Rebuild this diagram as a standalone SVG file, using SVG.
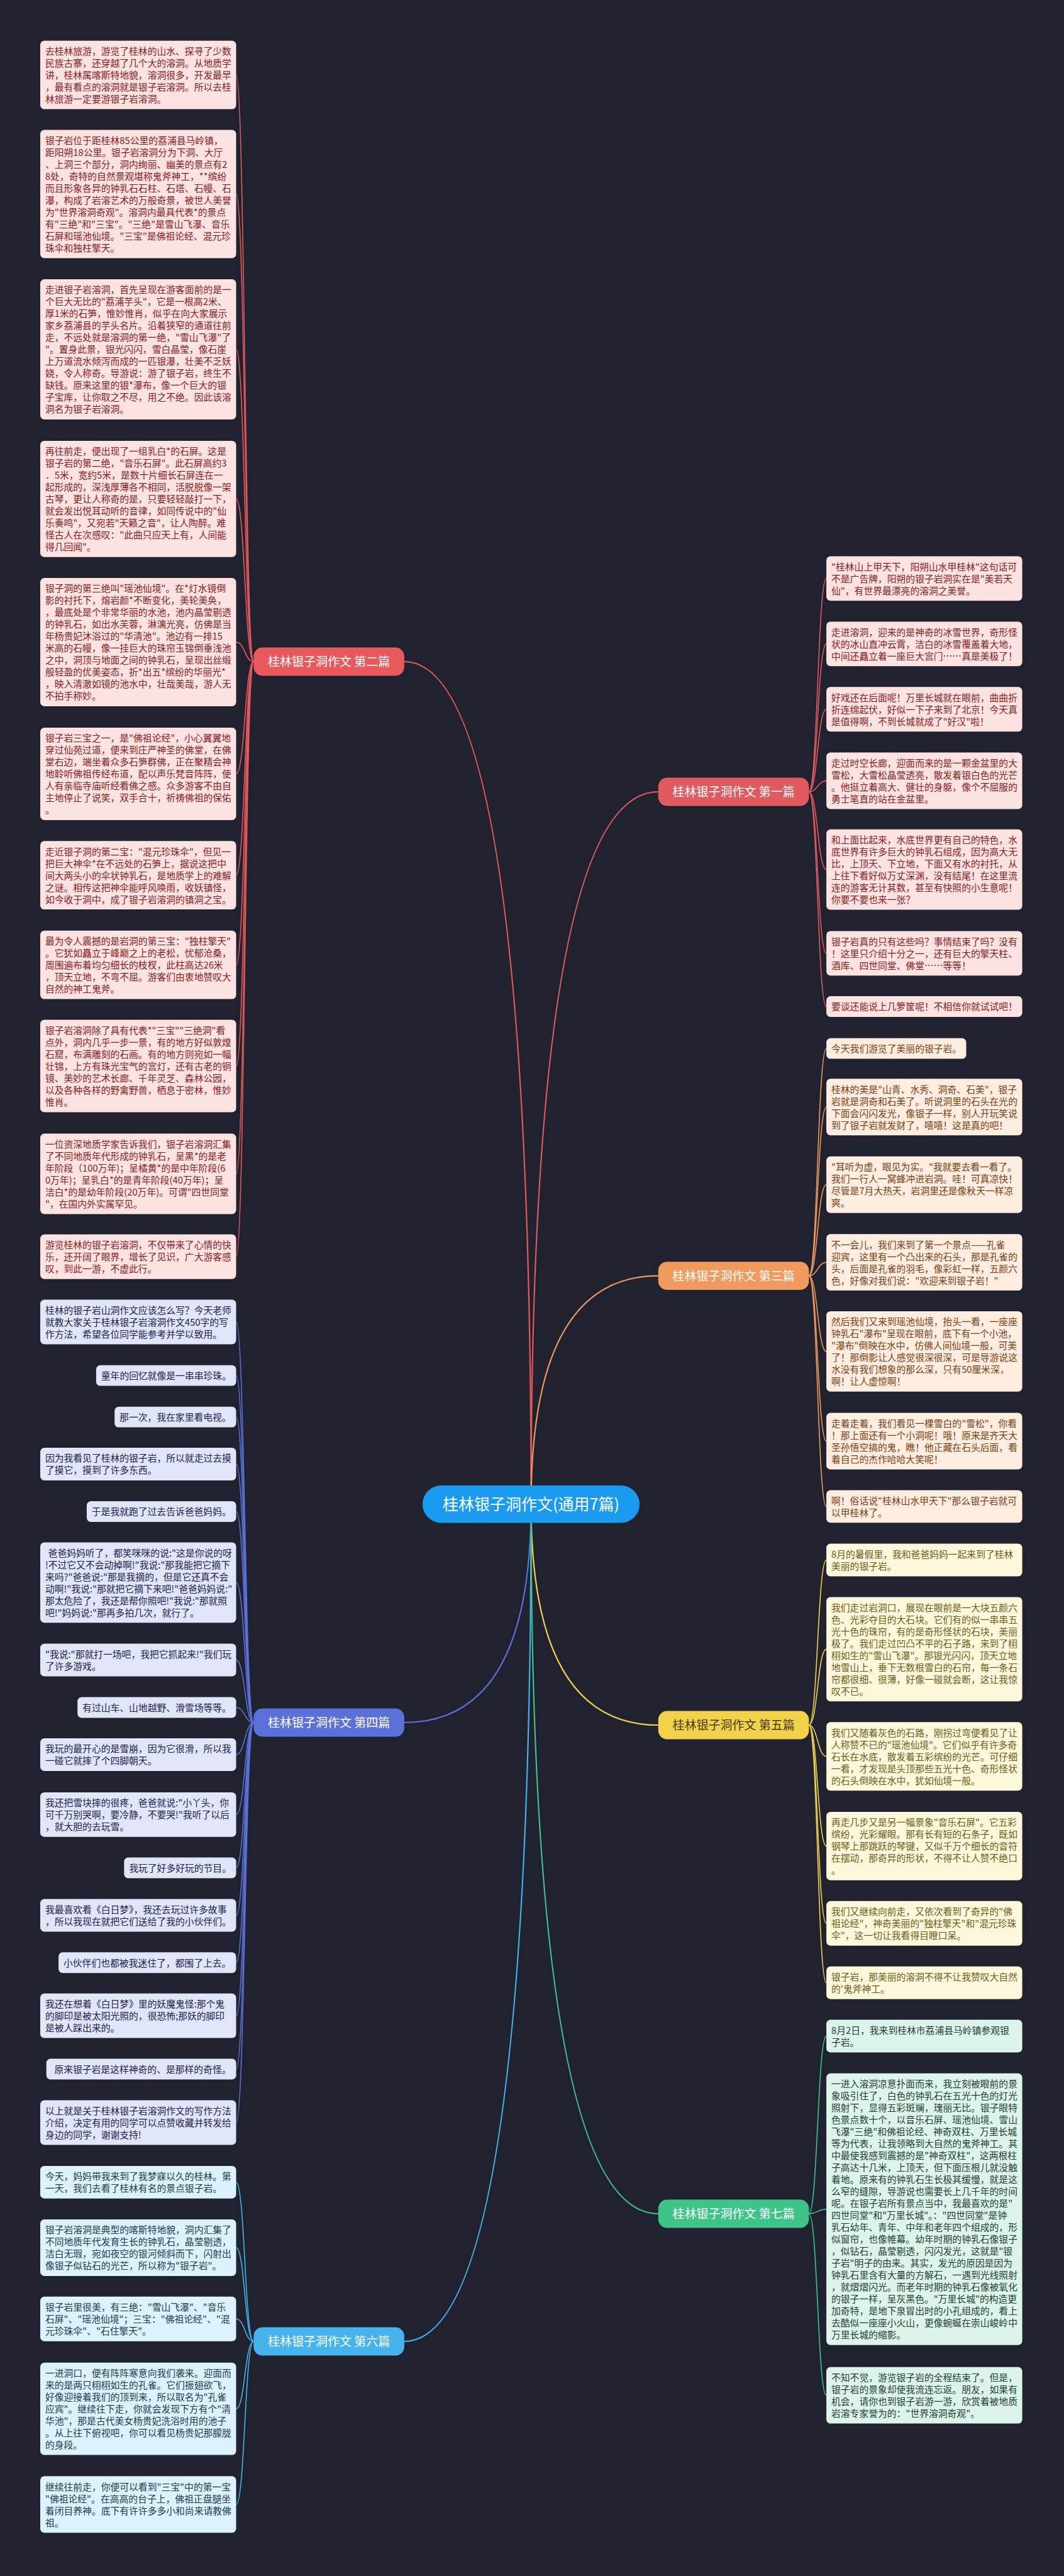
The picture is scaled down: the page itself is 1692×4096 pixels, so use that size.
<svg xmlns="http://www.w3.org/2000/svg" width="1692" height="4096" viewBox="0 0 1692 4096">
<style>
text{font-family:"Noto Sans CJK SC","Noto Sans",sans-serif;font-size:14.8px}
.lf rect{}
.ln{fill:none;stroke-width:1.6}
.br{fill:none;stroke-width:2.2}
.s1{stroke:#E05A60}.s2{stroke:#E8595B}.s3{stroke:#F09A5E}.s4{stroke:#5B70D8}.s5{stroke:#F2D24B}.s6{stroke:#46B3EC}.s7{stroke:#3EC489}
.b1 rect,.b2 rect{fill:#FDE2E2}.b1 text,.b2 text{fill:#8B1A1A}
.b3 rect{fill:#FDEDE1}.b3 text{fill:#7D3C0F}
.b4 rect{fill:#E1E5F8}.b4 text{fill:#1B2150}
.b5 rect{fill:#FDF8DC}.b5 text{fill:#6E5A14}
.b6 rect{fill:#DCF2FD}.b6 text{fill:#213A50}
.b7 rect{fill:#DDF4EA}.b7 text{fill:#1E3E33}
.lb text{font-size:19px;fill:#fff;text-anchor:middle}
</style>
<rect width="1692" height="4096" fill="#20232f"/>
<g id="connectors">
<path class="br s2" d="M844.5 2392Q844.5 1052 642.8 1052"/>
<path class="br s1" d="M844.5 2392Q844.5 1259 1046.8 1259"/>
<path class="br s3" d="M844.5 2392Q844.5 2028.6 1046.8 2028.6"/>
<path class="br s4" d="M844.5 2392Q844.5 2739 642.8 2739"/>
<path class="br s5" d="M844.5 2392Q844.5 2743 1046.8 2743"/>
<path class="br s6" d="M844.5 2392Q844.5 3723 642.8 3723"/>
<path class="br s7" d="M844.5 2392Q844.5 3520 1046.8 3520"/>
<g class="ln s2">
<path d="M403.3 1052C389.4 1052 389.4 119.2 375.5 119.2"/>
<path d="M403.3 1052C389.4 1052 389.4 308.6 375.5 308.6"/>
<path d="M403.3 1052C389.4 1052 389.4 555.5 375.5 555.5"/>
<path d="M403.3 1052C389.4 1052 389.4 793.4 375.5 793.4"/>
<path d="M403.3 1052C389.4 1052 389.4 1021.1 375.5 1021.1"/>
<path d="M403.3 1052C389.4 1052 389.4 1230.5 375.5 1230.5"/>
<path d="M403.3 1052C389.4 1052 389.4 1391.7 375.5 1391.7"/>
<path d="M403.3 1052C389.4 1052 389.4 1534.2 375.5 1534.2"/>
<path d="M403.3 1052C389.4 1052 389.4 1695.1 375.5 1695.1"/>
<path d="M403.3 1052C389.4 1052 389.4 1866.5 375.5 1866.5"/>
<path d="M403.3 1052C389.4 1052 389.4 1998.3 375.5 1998.3"/>
</g>
<g class="ln s4">
<path d="M403.3 2739C389.4 2739 389.4 2102 375.5 2102"/>
<path d="M403.3 2739C389.4 2739 389.4 2187.2 375.5 2187.2"/>
<path d="M403.3 2739C389.4 2739 389.4 2253.2 375.5 2253.2"/>
<path d="M403.3 2739C389.4 2739 389.4 2328.1 375.5 2328.1"/>
<path d="M403.3 2739C389.4 2739 389.4 2403.4 375.5 2403.4"/>
<path d="M403.3 2739C389.4 2739 389.4 2516.4 375.5 2516.4"/>
<path d="M403.3 2739C389.4 2739 389.4 2639.6 375.5 2639.6"/>
<path d="M403.3 2739C389.4 2739 389.4 2715 375.5 2715"/>
<path d="M403.3 2739C389.4 2739 389.4 2790.1 375.5 2790.1"/>
<path d="M403.3 2739C389.4 2739 389.4 2885.4 375.5 2885.4"/>
<path d="M403.3 2739C389.4 2739 389.4 2970 375.5 2970"/>
<path d="M403.3 2739C389.4 2739 389.4 3045.5 375.5 3045.5"/>
<path d="M403.3 2739C389.4 2739 389.4 3120.8 375.5 3120.8"/>
<path d="M403.3 2739C389.4 2739 389.4 3205.2 375.5 3205.2"/>
<path d="M403.3 2739C389.4 2739 389.4 3290.1 375.5 3290.1"/>
<path d="M403.3 2739C389.4 2739 389.4 3375.1 375.5 3375.1"/>
</g>
<g class="ln s6">
<path d="M403.3 3723C389.4 3723 389.4 3469.9 375.5 3469.9"/>
<path d="M403.3 3723C389.4 3723 389.4 3574 375.5 3574"/>
<path d="M403.3 3723C389.4 3723 389.4 3687.3 375.5 3687.3"/>
<path d="M403.3 3723C389.4 3723 389.4 3830.2 375.5 3830.2"/>
<path d="M403.3 3723C389.4 3723 389.4 3982.3 375.5 3982.3"/>
</g>
<g class="ln s1">
<path d="M1286.3 1259C1300.2 1259 1300.2 919.9 1314.1 919.9"/>
<path d="M1286.3 1259C1300.2 1259 1300.2 1023.9 1314.1 1023.9"/>
<path d="M1286.3 1259C1300.2 1259 1300.2 1127.8 1314.1 1127.8"/>
<path d="M1286.3 1259C1300.2 1259 1300.2 1241.6 1314.1 1241.6"/>
<path d="M1286.3 1259C1300.2 1259 1300.2 1382.7 1314.1 1382.7"/>
<path d="M1286.3 1259C1300.2 1259 1300.2 1515.9 1314.1 1515.9"/>
<path d="M1286.3 1259C1300.2 1259 1300.2 1600.5 1314.1 1600.5"/>
</g>
<g class="ln s3">
<path d="M1286.3 2028.6C1300.2 2028.6 1300.2 1667.2 1314.1 1667.2"/>
<path d="M1286.3 2028.6C1300.2 2028.6 1300.2 1760.3 1314.1 1760.3"/>
<path d="M1286.3 2028.6C1300.2 2028.6 1300.2 1883.8 1314.1 1883.8"/>
<path d="M1286.3 2028.6C1300.2 2028.6 1300.2 2007.2 1314.1 2007.2"/>
<path d="M1286.3 2028.6C1300.2 2028.6 1300.2 2148.9 1314.1 2148.9"/>
<path d="M1286.3 2028.6C1300.2 2028.6 1300.2 2291.6 1314.1 2291.6"/>
<path d="M1286.3 2028.6C1300.2 2028.6 1300.2 2395.4 1314.1 2395.4"/>
</g>
<g class="ln s5">
<path d="M1286.3 2743C1300.2 2743 1300.2 2480.5 1314.1 2480.5"/>
<path d="M1286.3 2743C1300.2 2743 1300.2 2622.4 1314.1 2622.4"/>
<path d="M1286.3 2743C1300.2 2743 1300.2 2792.8 1314.1 2792.8"/>
<path d="M1286.3 2743C1300.2 2743 1300.2 2935.4 1314.1 2935.4"/>
<path d="M1286.3 2743C1300.2 2743 1300.2 3058.3 1314.1 3058.3"/>
<path d="M1286.3 2743C1300.2 2743 1300.2 3152.8 1314.1 3152.8"/>
</g>
<g class="ln s7">
<path d="M1286.3 3520C1300.2 3520 1300.2 3237.6 1314.1 3237.6"/>
<path d="M1286.3 3520C1300.2 3520 1300.2 3512.7 1314.1 3512.7"/>
<path d="M1286.3 3520C1300.2 3520 1300.2 3808.7 1314.1 3808.7"/>
</g>
</g>

<g id="center"><rect x="671.9" y="2362.1" width="345.2" height="59.4" rx="29.7" fill="#1A9BF0"/><text x="844.5" y="2401" fill="#fff" text-anchor="middle" style="font-size:25px">桂林银子洞作文(通用7篇)</text></g>

<g id="label-2" class="lb"><rect x="403.3" y="1029.6" width="239.6" height="44.9" rx="14" fill="#E8595B"/><text x="523.1" y="1059.2">桂林银子洞作文 第二篇</text></g>
<g id="label-1" class="lb"><rect x="1046.8" y="1236.6" width="239.6" height="44.9" rx="14" fill="#E05A60"/><text x="1166.6" y="1266.2">桂林银子洞作文 第一篇</text></g>
<g id="label-3" class="lb"><rect x="1046.8" y="2006.2" width="239.6" height="44.9" rx="14" fill="#F09A5E"/><text x="1166.6" y="2035.8">桂林银子洞作文 第三篇</text></g>
<g id="label-4" class="lb"><rect x="403.3" y="2716.6" width="239.6" height="44.9" rx="14" fill="#5B70D8"/><text x="523.1" y="2746.2">桂林银子洞作文 第四篇</text></g>
<g id="label-5" class="lb"><rect x="1046.8" y="2720.6" width="239.6" height="44.9" rx="14" fill="#F2D24B"/><text x="1166.6" y="2750.2" style="fill:#4a3a00">桂林银子洞作文 第五篇</text></g>
<g id="label-6" class="lb"><rect x="403.3" y="3700.6" width="239.6" height="44.9" rx="14" fill="#46B3EC"/><text x="523.1" y="3730.2">桂林银子洞作文 第六篇</text></g>
<g id="label-7" class="lb"><rect x="1046.8" y="3497.6" width="239.6" height="44.9" rx="14" fill="#3EC489"/><text x="1166.6" y="3527.2">桂林银子洞作文 第七篇</text></g>

<g id="n2-a" class="b2" transform="translate(64 64.7)"><rect width="311.5" height="108.9" rx="6.6"/><text x="7.9" y="22.4"><tspan x="7.9">去桂林旅游，游览了桂林的山水、探寻了少数</tspan><tspan x="7.9" dy="19">民族古寨，还穿越了几个大的溶洞。从地质学</tspan><tspan x="7.9" dy="19">讲，桂林属喀斯特地貌，溶洞很多，开发最早</tspan><tspan x="7.9" dy="19">，最有看点的溶洞就是银子岩溶洞。所以去桂</tspan><tspan x="7.9" dy="19">林旅游一定要游银子岩溶洞。</tspan></text></g>
<g id="n2-b" class="b2" transform="translate(64 206.6)"><rect width="311.5" height="203.9" rx="6.6"/><text x="7.9" y="22.4"><tspan x="7.9">银子岩位于距桂林85公里的荔浦县马岭镇，</tspan><tspan x="7.9" dy="19">距阳朔18公里。银子岩溶洞分为下洞、大厅</tspan><tspan x="7.9" dy="19">、上洞三个部分，洞内绚丽、幽美的景点有2</tspan><tspan x="7.9" dy="19">8处，奇特的自然景观堪称鬼斧神工，**缤纷</tspan><tspan x="7.9" dy="19">而且形象各异的钟乳石石柱、石塔、石幔、石</tspan><tspan x="7.9" dy="19">瀑，构成了岩溶艺术的万般奇景，被世人美誉</tspan><tspan x="7.9" dy="19">为"世界溶洞奇观"。溶洞内最具代表*的景点</tspan><tspan x="7.9" dy="19">有"三绝"和"三宝"。"三绝"是雪山飞瀑、音乐</tspan><tspan x="7.9" dy="19">石屏和瑶池仙境。"三宝"是佛祖论经、混元珍</tspan><tspan x="7.9" dy="19">珠伞和独柱擎天。</tspan></text></g>
<g id="n2-c" class="b2" transform="translate(64 444)"><rect width="311.5" height="222.9" rx="6.6"/><text x="7.9" y="22.4"><tspan x="7.9">走进银子岩溶洞，首先呈现在游客面前的是一</tspan><tspan x="7.9" dy="19">个巨大无比的"荔浦芋头"，它是一根高2米、</tspan><tspan x="7.9" dy="19">厚1米的石笋，惟妙惟肖，似乎在向大家展示</tspan><tspan x="7.9" dy="19">家乡荔浦县的芋头名片。沿着狭窄的通道往前</tspan><tspan x="7.9" dy="19">走，不远处就是溶洞的第一绝，"雪山飞瀑"了</tspan><tspan x="7.9" dy="19">"。置身此景，银光闪闪，雪白晶莹，像石崖</tspan><tspan x="7.9" dy="19">上万道流水倾泻而成的一匹银瀑，壮美不乏妖</tspan><tspan x="7.9" dy="19">娆，令人称奇。导游说：游了银子岩，终生不</tspan><tspan x="7.9" dy="19">缺钱。原来这里的银*瀑布，像一个巨大的银</tspan><tspan x="7.9" dy="19">子宝库，让你取之不尽，用之不绝。因此该溶</tspan><tspan x="7.9" dy="19">洞名为银子岩溶洞。</tspan></text></g>
<g id="n2-d" class="b2" transform="translate(64 700.9)"><rect width="311.5" height="184.9" rx="6.6"/><text x="7.9" y="22.4"><tspan x="7.9">再往前走，便出现了一组乳白*的石屏。这是</tspan><tspan x="7.9" dy="19">银子岩的第二绝，"音乐石屏"。此石屏高约3</tspan><tspan x="7.9" dy="19">．5米，宽约5米，是数十片细长石屏连在一</tspan><tspan x="7.9" dy="19">起形成的，深浅厚薄各不相同，活脱脱像一架</tspan><tspan x="7.9" dy="19">古琴，更让人称奇的是，只要轻轻敲打一下，</tspan><tspan x="7.9" dy="19">就会发出悦耳动听的音律，如同传说中的"仙</tspan><tspan x="7.9" dy="19">乐奏鸣"，又宛若"天籁之音"，让人陶醉。难</tspan><tspan x="7.9" dy="19">怪古人在次感叹："此曲只应天上有，人间能</tspan><tspan x="7.9" dy="19">得几回闻"。</tspan></text></g>
<g id="n2-e" class="b2" transform="translate(64 919.1)"><rect width="311.5" height="203.9" rx="6.6"/><text x="7.9" y="22.4"><tspan x="7.9">银子洞的第三绝叫"瑶池仙境"。在*灯水镜倒</tspan><tspan x="7.9" dy="19">影的衬托下，熔岩颜*不断变化，美轮美奂，</tspan><tspan x="7.9" dy="19">，最底处是个非常华丽的水池，池内晶莹剔透</tspan><tspan x="7.9" dy="19">的钟乳石，如出水芙蓉，淋漓光亮，仿佛是当</tspan><tspan x="7.9" dy="19">年杨贵妃沐浴过的"华清池"。池边有一排15</tspan><tspan x="7.9" dy="19">米高的石幔，像一挂巨大的珠帘玉锦倒垂浅池</tspan><tspan x="7.9" dy="19">之中，洞顶与地面之间的钟乳石，呈现出丝缎</tspan><tspan x="7.9" dy="19">般轻盈的优美姿态，折*出五*缤纷的华丽光*</tspan><tspan x="7.9" dy="19">，映入清澈如镜的池水中，壮哉美哉，游人无</tspan><tspan x="7.9" dy="19">不拍手称妙。</tspan></text></g>
<g id="n2-f" class="b2" transform="translate(64 1157)"><rect width="311.5" height="146.9" rx="6.6"/><text x="7.9" y="22.4"><tspan x="7.9">银子岩三宝之一，是"佛祖论经"，小心翼翼地</tspan><tspan x="7.9" dy="19">穿过仙苑过道，便来到庄严神圣的佛堂，在佛</tspan><tspan x="7.9" dy="19">堂右边，端坐着众多石笋群佛，正在聚精会神</tspan><tspan x="7.9" dy="19">地聆听佛祖传经布道，配以声乐梵音阵阵，使</tspan><tspan x="7.9" dy="19">人有亲临寺庙听经看佛之感。众多游客不由自</tspan><tspan x="7.9" dy="19">主地停止了说笑，双手合十，祈祷佛祖的保佑</tspan><tspan x="7.9" dy="19">。</tspan></text></g>
<g id="n2-g" class="b2" transform="translate(64 1337.2)"><rect width="311.5" height="108.9" rx="6.6"/><text x="7.9" y="22.4"><tspan x="7.9">走近银子洞的第二宝："混元珍珠伞"，但见一</tspan><tspan x="7.9" dy="19">把巨大神伞*在不远处的石笋上，据说这把中</tspan><tspan x="7.9" dy="19">间大两头小的伞状钟乳石，是地质学上的难解</tspan><tspan x="7.9" dy="19">之谜。相传这把神伞能呼风唤雨，收妖镇怪，</tspan><tspan x="7.9" dy="19">如今收于洞中，成了银子岩溶洞的镇洞之宝。</tspan></text></g>
<g id="n2-h" class="b2" transform="translate(64 1479.7)"><rect width="311.5" height="108.9" rx="6.6"/><text x="7.9" y="22.4"><tspan x="7.9">最为令人震撼的是岩洞的第三宝："独柱擎天"</tspan><tspan x="7.9" dy="19">。它犹如矗立于峰巅之上的老松，忧郁沧桑，</tspan><tspan x="7.9" dy="19">周围遍布着均匀细长的枝杈，此柱高达26米</tspan><tspan x="7.9" dy="19">，顶天立地，不弯不屈。游客们由衷地赞叹大</tspan><tspan x="7.9" dy="19">自然的神工鬼斧。</tspan></text></g>
<g id="n2-i" class="b2" transform="translate(64 1621.6)"><rect width="311.5" height="146.9" rx="6.6"/><text x="7.9" y="22.4"><tspan x="7.9">银子岩溶洞除了具有代表*"三宝""三绝洞"看</tspan><tspan x="7.9" dy="19">点外，洞内几乎一步一景，有的地方好似敦煌</tspan><tspan x="7.9" dy="19">石窟，布满雕刻的石画。有的地方则宛如一幅</tspan><tspan x="7.9" dy="19">壮锦，上方有珠光宝气的宫灯，还有古老的铜</tspan><tspan x="7.9" dy="19">镜、美妙的艺术长廊、千年灵芝、森林公园，</tspan><tspan x="7.9" dy="19">以及各种各样的野禽野兽，栖息于密林，惟妙</tspan><tspan x="7.9" dy="19">惟肖。</tspan></text></g>
<g id="n2-j" class="b2" transform="translate(64 1802.5)"><rect width="311.5" height="127.9" rx="6.6"/><text x="7.9" y="22.4"><tspan x="7.9">一位资深地质学家告诉我们，银子岩溶洞汇集</tspan><tspan x="7.9" dy="19">了不同地质年代形成的钟乳石，呈黑*的是老</tspan><tspan x="7.9" dy="19">年阶段（100万年)；呈橘黄*的是中年阶段(6</tspan><tspan x="7.9" dy="19">0万年)；呈乳白*的是青年阶段(40万年)；呈</tspan><tspan x="7.9" dy="19">洁白*的是幼年阶段(20万年)。可谓"四世同堂</tspan><tspan x="7.9" dy="19">"，在国内外实属罕见。</tspan></text></g>
<g id="n2-k" class="b2" transform="translate(64 1962.8)"><rect width="311.5" height="70.9" rx="6.6"/><text x="7.9" y="22.4"><tspan x="7.9">游览桂林的银子岩溶洞，不仅带来了心情的快</tspan><tspan x="7.9" dy="19">乐，还开阔了眼界，增长了见识，广大游客感</tspan><tspan x="7.9" dy="19">叹，到此一游，不虚此行。</tspan></text></g>

<g id="n4-a" class="b4" transform="translate(64 2066.5)"><rect width="311.5" height="70.9" rx="6.6"/><text x="7.9" y="22.4"><tspan x="7.9">桂林的银子岩山洞作文应该怎么写？今天老师</tspan><tspan x="7.9" dy="19">就教大家关于桂林银子岩溶洞作文450字的写</tspan><tspan x="7.9" dy="19">作方法，希望各位同学能参考并学以致用。</tspan></text></g>
<g id="n4-b" class="b4" transform="translate(152.9 2170.7)"><rect width="222.6" height="32.9" rx="6.6"/><text x="7.9" y="22.4">童年的回忆就像是一串串珍珠。</text></g>
<g id="n4-c" class="b4" transform="translate(182.2 2236.7)"><rect width="193.3" height="32.9" rx="6.6"/><text x="7.9" y="22.4">那一次，我在家里看电视。</text></g>
<g id="n4-d" class="b4" transform="translate(64 2302.1)"><rect width="311.5" height="51.9" rx="6.6"/><text x="7.9" y="22.4"><tspan x="7.9">因为我看见了桂林的银子岩，所以就走过去摸</tspan><tspan x="7.9" dy="19">了摸它，摸到了许多东西。</tspan></text></g>
<g id="n4-e" class="b4" transform="translate(137.9 2387)"><rect width="237.6" height="32.9" rx="6.6"/><text x="7.9" y="22.4">于是我就跑了过去告诉爸爸妈妈。</text></g>
<g id="n4-f" class="b4" transform="translate(64 2452.4)"><rect width="311.5" height="127.9" rx="6.6"/><text x="7.9" y="22.4"><tspan x="12.6">爸爸妈妈听了，都笑咪咪的说:"这是你说的呀</tspan><tspan x="7.9" dy="19">!不过它又不会动掉啊!"我说:"那我能把它摘下</tspan><tspan x="7.9" dy="19">来吗?"爸爸说:"那是我摘的，但是它还真不会</tspan><tspan x="7.9" dy="19">动啊!"我说:"那就把它摘下来吧!"爸爸妈妈说:"</tspan><tspan x="7.9" dy="19">那太危险了，我还是帮你照吧!"我说:"那就照</tspan><tspan x="7.9" dy="19">吧!"妈妈说:"那再多拍几次，就行了。</tspan></text></g>
<g id="n4-g" class="b4" transform="translate(64 2613.6)"><rect width="311.5" height="51.9" rx="6.6"/><text x="7.9" y="22.4"><tspan x="7.9">"我说:"那就打一场吧，我把它抓起来!"我们玩</tspan><tspan x="7.9" dy="19">了许多游戏。</tspan></text></g>
<g id="n4-h" class="b4" transform="translate(123.2 2698.5)"><rect width="252.3" height="32.9" rx="6.6"/><text x="7.9" y="22.4">有过山车、山地越野、滑雪场等等。</text></g>
<g id="n4-i" class="b4" transform="translate(64 2764.1)"><rect width="311.5" height="51.9" rx="6.6"/><text x="7.9" y="22.4"><tspan x="7.9">我玩的最开心的是雪崩，因为它很滑，所以我</tspan><tspan x="7.9" dy="19">一碰它就摔了个四脚朝天。</tspan></text></g>
<g id="n4-j" class="b4" transform="translate(64 2849.9)"><rect width="311.5" height="70.9" rx="6.6"/><text x="7.9" y="22.4"><tspan x="7.9">我还把雪块摔的很疼，爸爸就说:"小丫头，你</tspan><tspan x="7.9" dy="19">可千万别哭啊，要冷静，不要哭!"我听了以后</tspan><tspan x="7.9" dy="19">，就大胆的去玩雪。</tspan></text></g>
<g id="n4-k" class="b4" transform="translate(197.3 2953.5)"><rect width="178.2" height="32.9" rx="6.6"/><text x="7.9" y="22.4">我玩了好多好玩的节目。</text></g>
<g id="n4-l" class="b4" transform="translate(64 3019.5)"><rect width="311.5" height="51.9" rx="6.6"/><text x="7.9" y="22.4"><tspan x="7.9">我最喜欢看《白日梦》，我还去玩过许多故事</tspan><tspan x="7.9" dy="19">，所以我现在就把它们送给了我的小伙伴们。</tspan></text></g>
<g id="n4-m" class="b4" transform="translate(93.1 3104.3)"><rect width="282.4" height="32.9" rx="6.6"/><text x="7.9" y="22.4">小伙伴们也都被我迷住了，都围了上去。</text></g>
<g id="n4-n" class="b4" transform="translate(64 3169.7)"><rect width="311.5" height="70.9" rx="6.6"/><text x="7.9" y="22.4"><tspan x="7.9">我还在想着《白日梦》里的妖魔鬼怪:那个鬼</tspan><tspan x="7.9" dy="19">的脚印是被太阳光照的，很恐怖;那妖的脚印</tspan><tspan x="7.9" dy="19">是被人踩出来的。</tspan></text></g>
<g id="n4-o" class="b4" transform="translate(73.7 3273.6)"><rect width="301.8" height="32.9" rx="6.6"/><text x="12.7" y="22.4">原来银子岩是这样神奇的、是那样的奇怪。</text></g>
<g id="n4-p" class="b4" transform="translate(64 3339.6)"><rect width="311.5" height="70.9" rx="6.6"/><text x="7.9" y="22.4"><tspan x="7.9">以上就是关于桂林银子岩溶洞作文的写作方法</tspan><tspan x="7.9" dy="19">介绍，决定有用的同学可以点赞收藏并转发给</tspan><tspan x="7.9" dy="19">身边的同学，谢谢支持!</tspan></text></g>

<g id="n6-a" class="b6" transform="translate(64 3443.9)"><rect width="311.5" height="51.9" rx="6.6"/><text x="7.9" y="22.4"><tspan x="7.9">今天，妈妈带我来到了我梦寐以久的桂林。第</tspan><tspan x="7.9" dy="19">一天，我们去看了桂林有名的景点银子岩。</tspan></text></g>
<g id="n6-b" class="b6" transform="translate(64 3529)"><rect width="311.5" height="89.9" rx="6.6"/><text x="7.9" y="22.4"><tspan x="7.9">银子岩溶洞是典型的喀斯特地貌，洞内汇集了</tspan><tspan x="7.9" dy="19">不同地质年代发育生长的钟乳石，晶莹剔透，</tspan><tspan x="7.9" dy="19">洁白无瑕，宛如夜空的银河倾斜而下，闪射出</tspan><tspan x="7.9" dy="19">像银子似钻石的光芒，所以称为"银子岩"。</tspan></text></g>
<g id="n6-c" class="b6" transform="translate(64 3651.8)"><rect width="311.5" height="70.9" rx="6.6"/><text x="7.9" y="22.4"><tspan x="7.9">银子岩里很美，有三绝："雪山飞瀑"、"音乐</tspan><tspan x="7.9" dy="19">石屏"、"瑶池仙境"；三宝："佛祖论经"、"混</tspan><tspan x="7.9" dy="19">元珍珠伞"、"石住擎天"。</tspan></text></g>
<g id="n6-d" class="b6" transform="translate(64 3756.7)"><rect width="311.5" height="146.9" rx="6.6"/><text x="7.9" y="22.4"><tspan x="7.9">一进洞口，便有阵阵寒意向我们袭来。迎面而</tspan><tspan x="7.9" dy="19">来的是两只栩栩如生的孔雀。它们振翅欲飞，</tspan><tspan x="7.9" dy="19">好像迎接着我们的顶到来，所以取名为"孔雀</tspan><tspan x="7.9" dy="19">应宾"。继续往下走，你就会发现下方有个"清</tspan><tspan x="7.9" dy="19">华池"，那是古代美女杨贵妃洗浴时用的池子</tspan><tspan x="7.9" dy="19">。从上往下俯视吧，你可以看见杨贵妃那朦胧</tspan><tspan x="7.9" dy="19">的身段。</tspan></text></g>
<g id="n6-e" class="b6" transform="translate(64 3937.3)"><rect width="311.5" height="89.9" rx="6.6"/><text x="7.9" y="22.4"><tspan x="7.9">继续往前走，你便可以看到"三宝"中的第一宝</tspan><tspan x="7.9" dy="19">"佛祖论经"。在高高的台子上，佛祖正盘腿坐</tspan><tspan x="7.9" dy="19">着闭目养神。底下有许许多多小和尚来请教佛</tspan><tspan x="7.9" dy="19">祖。</tspan></text></g>

<g id="n1-a" class="b1" transform="translate(1314.1 884.4)"><rect width="311.5" height="70.9" rx="6.6"/><text x="7.9" y="22.4"><tspan x="7.9">"桂林山上甲天下，阳朔山水甲桂林"这句话可</tspan><tspan x="7.9" dy="19">不是广告牌，阳朔的银子岩洞实在是"美若天</tspan><tspan x="7.9" dy="19">仙"，有世界最漂亮的溶洞之美誉。</tspan></text></g>
<g id="n1-b" class="b1" transform="translate(1314.1 988.4)"><rect width="311.5" height="70.9" rx="6.6"/><text x="7.9" y="22.4"><tspan x="7.9">走进溶洞，迎来的是神奇的冰雪世界，奇形怪</tspan><tspan x="7.9" dy="19">状的冰山直冲云霄，洁白的冰雪覆盖着大地，</tspan><tspan x="7.9" dy="19">中间还矗立着一座巨大宫门……真是美极了！</tspan></text></g>
<g id="n1-c" class="b1" transform="translate(1314.1 1092.3)"><rect width="311.5" height="70.9" rx="6.6"/><text x="7.9" y="22.4"><tspan x="7.9">好戏还在后面呢！万里长城就在眼前，曲曲折</tspan><tspan x="7.9" dy="19">折连绵起伏，好似一下子来到了北京！今天真</tspan><tspan x="7.9" dy="19">是值得啊，不到长城就成了"好汉"啦！</tspan></text></g>
<g id="n1-d" class="b1" transform="translate(1314.1 1196.6)"><rect width="311.5" height="89.9" rx="6.6"/><text x="7.9" y="22.4"><tspan x="7.9">走过时空长廊，迎面而来的是一颗金盆里的大</tspan><tspan x="7.9" dy="19">雪松，大雪松晶莹透亮，散发着银白色的光芒</tspan><tspan x="7.9" dy="19">。他挺立着高大、健壮的身躯，像个不屈服的</tspan><tspan x="7.9" dy="19">勇士笔直的站在金盆里。</tspan></text></g>
<g id="n1-e" class="b1" transform="translate(1314.1 1318.7)"><rect width="311.5" height="127.9" rx="6.6"/><text x="7.9" y="22.4"><tspan x="7.9">和上面比起来，水底世界更有自己的特色，水</tspan><tspan x="7.9" dy="19">底世界有许多巨大的钟乳石组成，因为高大无</tspan><tspan x="7.9" dy="19">比，上顶天、下立地，下面又有水的衬托，从</tspan><tspan x="7.9" dy="19">上往下看好似万丈深渊，没有结尾！在这里流</tspan><tspan x="7.9" dy="19">连的游客无计其数，甚至有快照的小生意呢！</tspan><tspan x="7.9" dy="19">你要不要也来一张？</tspan></text></g>
<g id="n1-f" class="b1" transform="translate(1314.1 1480.4)"><rect width="311.5" height="70.9" rx="6.6"/><text x="7.9" y="22.4"><tspan x="7.9">银子岩真的只有这些吗？事情结束了吗？没有</tspan><tspan x="7.9" dy="19">！这里只介绍十分之一，还有巨大的擎天柱、</tspan><tspan x="7.9" dy="19">酒库、四世同堂、佛堂……等等！</tspan></text></g>
<g id="n1-g" class="b1" transform="translate(1314.1 1584)"><rect width="311.5" height="32.9" rx="6.6"/><text x="7.9" y="22.4">要谈还能说上几箩筐呢！不相信你就试试吧！</text></g>

<g id="n3-a" class="b3" transform="translate(1314.1 1650.7)"><rect width="222.4" height="32.9" rx="6.6"/><text x="7.9" y="22.4">今天我们游览了美丽的银子岩。</text></g>
<g id="n3-b" class="b3" transform="translate(1314.1 1715.3)"><rect width="311.5" height="89.9" rx="6.6"/><text x="7.9" y="22.4"><tspan x="7.9">桂林的美是"山青、水秀、洞奇、石美"，银子</tspan><tspan x="7.9" dy="19">岩就是洞奇和石美了。听说洞里的石头在光的</tspan><tspan x="7.9" dy="19">下面会闪闪发光，像银子一样，别人开玩笑说</tspan><tspan x="7.9" dy="19">到了银子岩就发财了，嘻嘻！这是真的吧！</tspan></text></g>
<g id="n3-c" class="b3" transform="translate(1314.1 1838.8)"><rect width="311.5" height="89.9" rx="6.6"/><text x="7.9" y="22.4"><tspan x="7.9">"耳听为虚，眼见为实。"我就要去看一看了。</tspan><tspan x="7.9" dy="19">我们一行人一窝蜂冲进岩洞。哇！可真凉快！</tspan><tspan x="7.9" dy="19">尽管是7月大热天，岩洞里还是像秋天一样凉</tspan><tspan x="7.9" dy="19">爽。</tspan></text></g>
<g id="n3-d" class="b3" transform="translate(1314.1 1962.2)"><rect width="311.5" height="89.9" rx="6.6"/><text x="7.9" y="22.4"><tspan x="7.9">不一会儿，我们来到了第一个景点——孔雀</tspan><tspan x="7.9" dy="19">迎宾，这里有一个凸出来的石头，那是孔雀的</tspan><tspan x="7.9" dy="19">头，后面是孔雀的羽毛，像彩虹一样，五颜六</tspan><tspan x="7.9" dy="19">色，好像对我们说："欢迎来到银子岩！"</tspan></text></g>
<g id="n3-e" class="b3" transform="translate(1314.1 2084.9)"><rect width="311.5" height="127.9" rx="6.6"/><text x="7.9" y="22.4"><tspan x="7.9">然后我们又来到瑶池仙境，抬头一看，一座座</tspan><tspan x="7.9" dy="19">钟乳石"瀑布"呈现在眼前，底下有一个小池，</tspan><tspan x="7.9" dy="19">"瀑布"倒映在水中，仿佛人间仙境一般，可美</tspan><tspan x="7.9" dy="19">了！那倒影让人感觉很深很深，可是导游说这</tspan><tspan x="7.9" dy="19">水没有我们想象的那么深，只有50厘米深，</tspan><tspan x="7.9" dy="19">啊！让人虚惊啊！</tspan></text></g>
<g id="n3-f" class="b3" transform="translate(1314.1 2246.6)"><rect width="311.5" height="89.9" rx="6.6"/><text x="7.9" y="22.4"><tspan x="7.9">走着走着，我们看见一棵雪白的"雪松"，你看</tspan><tspan x="7.9" dy="19">！那上面还有一个小洞呢！哦！原来是齐天大</tspan><tspan x="7.9" dy="19">圣孙悟空搞的鬼，瞧！他正藏在石头后面，看</tspan><tspan x="7.9" dy="19">着自己的杰作哈哈大笑呢！</tspan></text></g>
<g id="n3-g" class="b3" transform="translate(1314.1 2369.4)"><rect width="311.5" height="51.9" rx="6.6"/><text x="7.9" y="22.4"><tspan x="7.9">啊！俗话说"桂林山水甲天下"那么银子岩就可</tspan><tspan x="7.9" dy="19">以甲桂林了。</tspan></text></g>

<g id="n5-a" class="b5" transform="translate(1314.1 2454.5)"><rect width="311.5" height="51.9" rx="6.6"/><text x="7.9" y="22.4"><tspan x="7.9">8月的暑假里，我和爸爸妈妈一起来到了桂林</tspan><tspan x="7.9" dy="19">美丽的银子岩。</tspan></text></g>
<g id="n5-b" class="b5" transform="translate(1314.1 2539.4)"><rect width="311.5" height="165.9" rx="6.6"/><text x="7.9" y="22.4"><tspan x="7.9">我们走过岩洞口，展现在眼前是一大块五颜六</tspan><tspan x="7.9" dy="19">色、光彩夺目的大石块。它们有的似一串串五</tspan><tspan x="7.9" dy="19">光十色的珠帘，有的是奇形怪状的石块，美丽</tspan><tspan x="7.9" dy="19">极了。我们走过凹凸不平的石子路，来到了栩</tspan><tspan x="7.9" dy="19">栩如生的"雪山飞瀑"。那银光闪闪，顶天立地</tspan><tspan x="7.9" dy="19">地雪山上，垂下无数根雪白的石帘，每一条石</tspan><tspan x="7.9" dy="19">帘都很细、很薄，好像一碰就会断，这让我惊</tspan><tspan x="7.9" dy="19">叹不已。</tspan></text></g>
<g id="n5-c" class="b5" transform="translate(1314.1 2738.3)"><rect width="311.5" height="108.9" rx="6.6"/><text x="7.9" y="22.4"><tspan x="7.9">我们又随着灰色的石路，刚拐过弯便看见了让</tspan><tspan x="7.9" dy="19">人称赞不已的"瑶池仙境"。它们似乎有许多奇</tspan><tspan x="7.9" dy="19">石长在水底，散发着五彩缤纷的光芒。可仔细</tspan><tspan x="7.9" dy="19">一看，才发现是头顶那些五光十色、奇形怪状</tspan><tspan x="7.9" dy="19">的石头倒映在水中，犹如仙境一般。</tspan></text></g>
<g id="n5-d" class="b5" transform="translate(1314.1 2880.9)"><rect width="311.5" height="108.9" rx="6.6"/><text x="7.9" y="22.4"><tspan x="7.9">再走几步又是另一幅景象"音乐石屏"。它五彩</tspan><tspan x="7.9" dy="19">缤纷，光彩耀眼。那有长有短的石条子，既如</tspan><tspan x="7.9" dy="19">钢琴上那跳跃的琴键，又似千万个细长的音符</tspan><tspan x="7.9" dy="19">在摆动，那奇异的形状，不得不让人赞不绝口</tspan><tspan x="7.9" dy="19">。</tspan></text></g>
<g id="n5-e" class="b5" transform="translate(1314.1 3022.8)"><rect width="311.5" height="70.9" rx="6.6"/><text x="7.9" y="22.4"><tspan x="7.9">我们又继续向前走，又依次看到了奇异的"佛</tspan><tspan x="7.9" dy="19">祖论经"，神奇美丽的"独柱擎天"和"混元珍珠</tspan><tspan x="7.9" dy="19">伞"，这一切让我看得目瞪口呆。</tspan></text></g>
<g id="n5-f" class="b5" transform="translate(1314.1 3126.8)"><rect width="311.5" height="51.9" rx="6.6"/><text x="7.9" y="22.4"><tspan x="7.9">银子岩，那美丽的溶洞不得不让我赞叹大自然</tspan><tspan x="7.9" dy="19">的'鬼斧神工。</tspan></text></g>

<g id="n7-a" class="b7" transform="translate(1314.1 3211.6)"><rect width="311.5" height="51.9" rx="6.6"/><text x="7.9" y="22.4"><tspan x="7.9">8月2日，我来到桂林市荔浦县马岭镇参观银</tspan><tspan x="7.9" dy="19">子岩。</tspan></text></g>
<g id="n7-b" class="b7" transform="translate(1314.1 3296.7)"><rect width="311.5" height="432" rx="6.6"/><text x="7.9" y="22.4"><tspan x="7.9">一进入溶洞凉意扑面而来，我立刻被眼前的景</tspan><tspan x="7.9" dy="19">象吸引住了，白色的钟乳石在五光十色的灯光</tspan><tspan x="7.9" dy="19">照射下，显得五彩斑斓，瑰丽无比。银子眼特</tspan><tspan x="7.9" dy="19">色景点数十个，以音乐石屏、瑶池仙境、雪山</tspan><tspan x="7.9" dy="19">飞瀑"三绝"和佛祖论经、神奇双柱、万里长城</tspan><tspan x="7.9" dy="19">等为代表，让我领略到大自然的鬼斧神工。其</tspan><tspan x="7.9" dy="19">中最使我感到震撼的是"神奇双柱"，这两根柱</tspan><tspan x="7.9" dy="19">子高达十几米，上顶天，但下面压根儿就没触</tspan><tspan x="7.9" dy="19">着地。原来有的钟乳石生长极其缓慢，就是这</tspan><tspan x="7.9" dy="19">么窄的缝隙，导游说也需要长上几千年的时间</tspan><tspan x="7.9" dy="19">呢。在银子岩所有景点当中，我最喜欢的是"</tspan><tspan x="7.9" dy="19">四世同堂"和"万里长城"。："四世同堂"是钟</tspan><tspan x="7.9" dy="19">乳石幼年、青年、中年和老年四个组成的，形</tspan><tspan x="7.9" dy="19">似窗帘，也像帷幕。幼年时期的钟乳石像银子</tspan><tspan x="7.9" dy="19">，似钻石，晶莹剔透，闪闪发光，这就是"银</tspan><tspan x="7.9" dy="19">子岩"明子的由来。其实，发光的原因是因为</tspan><tspan x="7.9" dy="19">钟乳石里含有大量的方解石，一遇到光线照射</tspan><tspan x="7.9" dy="19">，就熠熠闪光。而老年时期的钟乳石像被氧化</tspan><tspan x="7.9" dy="19">的银子一样，呈灰黑色。"万里长城"的构造更</tspan><tspan x="7.9" dy="19">加奇特，是地下泉冒出时的小孔组成的，看上</tspan><tspan x="7.9" dy="19">去酷似一座座小火山，更像蜿蜒在崇山峻岭中</tspan><tspan x="7.9" dy="19">万里长城的缩影。</tspan></text></g>
<g id="n7-c" class="b7" transform="translate(1314.1 3763.7)"><rect width="311.5" height="89.9" rx="6.6"/><text x="7.9" y="22.4"><tspan x="7.9">不知不觉，游览银子岩的全程结束了。但是，</tspan><tspan x="7.9" dy="19">银子岩的景象却使我流连忘返。朋友，如果有</tspan><tspan x="7.9" dy="19">机会，请你也到银子岩游一游，欣赏着被地质</tspan><tspan x="7.9" dy="19">岩溶专家誉为的："世界溶洞奇观"。</tspan></text></g>
</svg>
